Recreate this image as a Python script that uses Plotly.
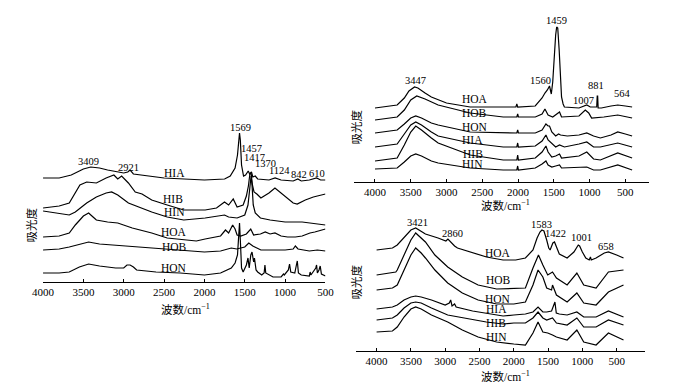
import plotly.graph_objects as go

W, H = 679, 389

# ---------------- Left panel (spectra, relative absorbance) ----------------
L_HIA_wn = [4000, 3800, 3650, 3500, 3409, 3300, 3200, 3000, 2950, 2921, 2880, 2700, 2500, 2000, 1750, 1680, 1620, 1590,
            1575, 1565, 1555, 1540, 1515, 1490, 1457, 1440, 1417, 1400, 1370, 1340, 1200, 1124, 1050, 900, 842, 800, 700,
            610, 560, 500]
L_HIA_ab = [104, 104, 107, 113, 115, 114, 112, 109, 110, 112, 108, 106, 104, 102, 103, 106, 114, 127,
            142, 149, 142, 117, 106, 107, 111, 108, 110, 105, 106, 103, 102, 104, 102, 101, 103, 101, 102,
            104, 102, 102]

L_HIB_wn = [4000, 3800, 3675, 3543, 3459, 3339, 3218, 3122, 3074, 3026, 2942, 2857, 2773, 2653, 2461, 2256, 1991, 1850,
            1751, 1700, 1643, 1595, 1520, 1480, 1455, 1435, 1420, 1405, 1385, 1350, 1300, 1200, 1126, 1000, 900, 850,
            750, 650, 500]
L_HIB_ab = [74, 76, 79, 97, 100, 99, 104, 107, 103, 106, 99, 90, 88, 82, 77, 72, 72, 74,
            80, 77, 83, 75, 77, 86, 96, 109, 108, 97, 90, 88, 84, 89, 94, 86, 79, 78,
            82, 85, 88]

L_HIN_wn = [4000, 3800, 3675, 3600, 3459, 3339, 3218, 3150, 3074, 2942, 2821, 2653, 2461, 2256, 1991, 1751, 1700, 1595,
            1500, 1460, 1440, 1422, 1410, 1395, 1370, 1306, 1186, 1000, 789, 600, 500]
L_HIN_ab = [71, 69, 67, 70, 79, 85, 89, 90, 87, 79, 75, 70, 65, 62, 64, 67, 65, 64,
            67, 77, 92, 106, 97, 77, 69, 64, 62, 60, 60, 58, 57]

L_HOA_wn = [4000, 3800, 3675, 3600, 3500, 3435, 3380, 3339, 3200, 3074, 2894, 2653, 2461, 2256, 2100, 1991, 1800, 1739,
            1700, 1650, 1620, 1595, 1550, 1480, 1426, 1390, 1306, 1246, 1186, 1126, 1050, 969, 873, 789, 692, 632, 500]
L_HOA_ab = [45, 46, 49, 57, 66, 69, 65, 62, 60, 59, 54, 49, 44, 42, 41, 43, 46, 52,
            49, 57, 53, 47, 46, 48, 53, 47, 48, 50, 48, 49, 46, 45, 45, 46, 49, 50, 53]

L_HOB_wn = [4000, 3800, 3675, 3500, 3435, 3300, 3000, 2700, 2400, 2000, 1800, 1667, 1600, 1500, 1450, 1400, 1300, 1100,
            1000, 900, 873, 840, 700, 600, 500]
L_HOB_ab = [32, 33, 35, 39, 40, 38, 36, 34, 32, 30, 31, 34, 33, 35, 39, 36, 32, 32,
            32, 33, 36, 33, 31, 32, 31]

L_HON_wn = [4000, 3800, 3675, 3550, 3435, 3300, 3100, 3000, 2960, 2921, 2880, 2840, 2600, 2300, 2000, 1800, 1667, 1620,
            1590, 1575, 1565, 1555, 1540, 1520, 1480, 1460, 1445, 1425, 1410, 1390, 1380, 1360, 1340, 1290, 1260, 1250,
            1240, 1150, 1050, 1020, 1010, 960, 945, 930, 880, 860, 849, 835, 800, 700, 690, 680, 620, 610, 600, 580,
            565, 550, 500]
L_HON_ab = [9, 9, 10, 15, 18, 16, 14, 14, 17, 17, 15, 12, 10, 9, 7, 9, 14, 19,
            27, 47, 59, 42, 14, 10, 17, 24, 14, 27, 30, 20, 24, 12, 10, 7, 9, 17,
            9, 5, 5, 8, 7, 12, 18, 10, 9, 17, 21, 9, 7, 6, 10, 7, 14, 17, 9, 12,
            16, 8, 6]

# ---------------- Top-right panel ----------------
T_HOA_wn = [4000, 3690, 3590, 3525, 3447, 3400, 3300, 3212, 3000, 2670, 2200, 2030, 2017, 2005, 1760, 1664, 1624, 1590,
            1560, 1535, 1515, 1490, 1474, 1460, 1445, 1425, 1406, 1392, 1370, 1352, 1148, 1039, 990, 900, 893, 887,
            880, 835, 700, 606, 500, 405]
T_HOA_ab = [74, 77, 84, 91, 95, 94, 89, 85, 79, 75, 75, 75, 78, 75, 76, 84, 89, 92,
            96, 88, 100, 132, 147, 155, 154, 132, 107, 85, 78, 75, 74, 77, 75, 75, 86, 86,
            74, 74, 76, 77, 76, 75]

T_HOB_wn = [4000, 3690, 3590, 3500, 3416, 3300, 3117, 2669, 2207, 2017, 2005, 1995, 1759, 1664, 1624, 1580, 1515, 1460,
            1420, 1392, 1148, 1060, 1012, 971, 800, 606, 405]
T_HOB_ab = [62, 65, 72, 82, 86, 83, 77, 69, 65, 65, 68, 65, 65, 68, 73, 67, 65, 68,
            70, 65, 66, 72, 69, 64, 65, 67, 64]

T_HON_wn = [4000, 3690, 3590, 3500, 3430, 3350, 3212, 3117, 2669, 2207, 2017, 2005, 1995, 1759, 1664, 1610, 1580, 1560,
            1528, 1474, 1433, 1406, 1311, 1148, 1039, 944, 849, 700, 606, 500, 405]
T_HON_ab = [49, 52, 58, 64, 66, 64, 59, 57, 50, 49, 49, 52, 49, 49, 52, 58, 56, 56,
            50, 46, 48, 47, 46, 47, 49, 46, 44, 47, 50, 48, 46]

T_HIA_wn = [4000, 3690, 3590, 3500, 3430, 3350, 3212, 3117, 2669, 2207, 2017, 2005, 1995, 1759, 1664, 1610, 1580, 1528,
            1474, 1420, 1352, 1148, 1039, 944, 849, 606, 405]
T_HIA_ab = [35, 38, 48, 57, 60, 57, 50, 46, 39, 35, 35, 39, 35, 36, 41, 47, 42, 39,
            35, 37, 35, 38, 40, 35, 35, 39, 35]

T_HIB_wn = [4000, 3690, 3590, 3500, 3430, 3350, 3212, 3117, 2669, 2207, 2017, 2005, 1995, 1759, 1664, 1610, 1580, 1528,
            1474, 1420, 1392, 1148, 1039, 944, 849, 606, 405]
T_HIB_ab = [21, 24, 37, 50, 56, 52, 44, 39, 27, 22, 22, 27, 22, 24, 30, 36, 30, 25,
            26, 28, 24, 26, 30, 23, 22, 29, 24]

T_HIN_wn = [4000, 3690, 3590, 3500, 3430, 3350, 3212, 3117, 2669, 2207, 2017, 2005, 1995, 1759, 1664, 1610, 1580, 1528,
            1474, 1420, 1392, 1148, 1039, 944, 849, 606, 405]
T_HIN_ab = [13, 14, 20, 26, 28, 26, 21, 19, 14, 12, 12, 16, 12, 14, 18, 21, 17, 15,
            16, 17, 14, 15, 15, 12, 12, 17, 12]

# ---------------- Bottom-right panel ----------------
B_HOA_wn = [4000, 3769, 3699, 3600, 3500, 3430, 3350, 3288, 3104, 2990, 2960, 2920, 2863, 2821, 2637, 2397, 2156, 1972,
            1830, 1720, 1660, 1618, 1590, 1560, 1520, 1490, 1470, 1430, 1406, 1378, 1336, 1222, 1123, 1060, 1040, 1000,
            950, 900, 882, 870, 800, 680, 620, 500, 400]
B_HOA_ab = [101, 103, 106, 113, 121, 123, 120, 117, 113, 110, 112, 109, 105, 103, 99, 94, 91, 91,
            93, 101, 113, 119, 121, 120, 111, 103, 101, 108, 109, 104, 97, 93, 99, 106, 105, 99,
            93, 91, 94, 91, 93, 98, 99, 96, 93]

B_HOB_wn = [4000, 3769, 3720, 3699, 3600, 3500, 3430, 3350, 3288, 3150, 2963, 2750, 2520, 2250, 2000, 1830, 1720, 1640,
            1576, 1505, 1435, 1378, 1222, 1080, 980, 800, 620, 400]
B_HOB_ab = [76, 78, 79, 81, 96, 111, 118, 113, 109, 96, 84, 74, 66, 62, 63, 63, 83, 96,
            86, 76, 79, 73, 66, 78, 66, 63, 79, 81]

B_HON_wn = [4000, 3769, 3699, 3600, 3500, 3430, 3350, 3288, 3150, 2963, 2750, 2520, 2250, 2000, 1830, 1720, 1646, 1576,
            1520, 1449, 1435, 1378, 1222, 1080, 980, 800, 620, 400]
B_HON_ab = [61, 63, 66, 81, 96, 103, 98, 93, 81, 68, 58, 51, 47, 47, 49, 66, 81, 74,
            63, 61, 66, 56, 49, 58, 48, 46, 59, 66]

B_HIA_wn = [4000, 3769, 3699, 3600, 3500, 3430, 3350, 3200, 3000, 2940, 2920, 2900, 2863, 2840, 2600, 2400, 2156, 2000,
            1830, 1720, 1646, 1576, 1520, 1449, 1400, 1380, 1336, 1222, 1080, 980, 800, 620, 400]
B_HIA_ab = [42, 44, 46, 51, 54, 55, 54, 51, 46, 48, 51, 45, 47, 44, 40, 38, 35, 36,
            37, 39, 44, 39, 39, 40, 49, 38, 37, 36, 39, 34, 34, 40, 34]

B_HIB_wn = [4000, 3769, 3699, 3600, 3500, 3430, 3350, 3200, 2963, 2600, 2400, 2156, 2000, 1830, 1720, 1646, 1576, 1520,
            1435, 1378, 1222, 1080, 980, 800, 620, 400]
B_HIB_ab = [31, 33, 36, 43, 48, 49, 48, 43, 36, 31, 29, 27, 28, 28, 33, 39, 33, 31,
            33, 28, 26, 33, 24, 24, 31, 26]

B_HIN_wn = [4000, 3769, 3699, 3600, 3500, 3430, 3350, 3200, 2963, 2750, 2520, 2250, 2000, 1830, 1720, 1646, 1576, 1505,
            1435, 1378, 1222, 1080, 980, 800, 620, 400]
B_HIN_ab = [19, 20, 24, 34, 42, 44, 42, 36, 29, 21, 14, 9, 7, 6, 18, 29, 19, 18,
            16, 14, 11, 21, 9, 6, 18, 11]

sample_names = ["HIA", "HIB", "HIN", "HOA", "HOB", "HON"]
tick_vals = [4000, 3500, 3000, 2500, 2000, 1500, 1000, 500]

left_peaks = ["3409", "2921", "1569", "1457", "1417", "1370", "1124", "842", "610"]
top_peaks = ["3447", "1560", "1459", "1007", "881", "564"]
bot_peaks = ["3421", "2860", "1583", "1422", "1001", "658"]

# ------------------------------------------------------------------------
SERIF = "Liberation Serif, Times New Roman, serif"
CJK = "Liberation Serif, Noto Sans CJK SC, serif"
LINE = dict(color="black", width=1.2)

fig = go.Figure()

panels = [
    ("x", "y", [(L_HIA_wn, L_HIA_ab), (L_HIB_wn, L_HIB_ab), (L_HIN_wn, L_HIN_ab),
                (L_HOA_wn, L_HOA_ab), (L_HOB_wn, L_HOB_ab), (L_HON_wn, L_HON_ab)]),
    ("x2", "y2", [(T_HOA_wn, T_HOA_ab), (T_HOB_wn, T_HOB_ab), (T_HON_wn, T_HON_ab),
                  (T_HIA_wn, T_HIA_ab), (T_HIB_wn, T_HIB_ab), (T_HIN_wn, T_HIN_ab)]),
    ("x3", "y3", [(B_HOA_wn, B_HOA_ab), (B_HOB_wn, B_HOB_ab), (B_HON_wn, B_HON_ab),
                  (B_HIA_wn, B_HIA_ab), (B_HIB_wn, B_HIB_ab), (B_HIN_wn, B_HIN_ab)]),
]
for xa, ya, curves in panels:
    for wn, ab in curves:
        fig.add_trace(go.Scatter(x=wn, y=ab, mode="lines", line=LINE, xaxis=xa, yaxis=ya,
                                 hoverinfo="skip", showlegend=False))


def px(x, y):
    return x / W, 1 - y / H


def xaxis(dom, rng):
    return dict(domain=dom, range=rng, tickvals=tick_vals, ticks="inside", ticklen=3, tickwidth=1,
                tickcolor="black", showline=True, linecolor="black", linewidth=1, showgrid=False,
                zeroline=False, tickfont=dict(family=SERIF, size=11, color="black"), fixedrange=True)


def yaxis(dom, rng, anchor):
    return dict(domain=dom, range=rng, visible=False, showgrid=False, zeroline=False, anchor=anchor,
                fixedrange=True)


fig.update_layout(
    width=W, height=H, margin=dict(l=0, r=0, t=0, b=0),
    paper_bgcolor="white", plot_bgcolor="white", showlegend=False,
    xaxis=dict(xaxis([33 / W, 324 / W], [4000, 500]), anchor="y"),
    yaxis=yaxis([1 - 282 / H, 1 - 120 / H], [0, 162], "x"),
    xaxis2=dict(xaxis([353 / W, 657 / W], [4299, 174]), anchor="y2"),
    yaxis2=yaxis([1 - 182 / H, 1 - 15 / H], [0, 167], "x2"),
    xaxis3=dict(xaxis([355 / W, 653 / W], [4307, 90]), anchor="y3"),
    yaxis3=yaxis([1 - 351 / H, 1 - 215 / H], [0, 136], "x3"),
)

ann = []


def label(text, x, y, size=11, family=SERIF, angle=0):
    ax, ay = px(x, y)
    ann.append(dict(text=text, x=ax, y=ay, xref="paper", yref="paper", showarrow=False,
                    xanchor="center", yanchor="middle", textangle=angle,
                    font=dict(family=family, size=size, color="black")))


# curve labels
left_lab_pos = [(168, 173), (167, 199), (168, 212), (168, 232), (168, 247), (168, 268)]
for n, (x, y) in zip(sample_names, left_lab_pos):
    label(n, x, y, 11.5)
top_order = ["HOA", "HOB", "HON", "HIA", "HIB", "HIN"]
top_lab_pos = [(478, 99), (478, 113), (478, 127), (476, 140), (476, 154), (476, 164)]
for n, (x, y) in zip(top_order, top_lab_pos):
    label(n, x, y, 11.5)
bot_lab_pos = [(502, 253), (502, 280), (502, 299), (500, 309), (500, 323), (500, 337)]
for n, (x, y) in zip(top_order, bot_lab_pos):
    label(n, x, y, 11.5)

# peak labels
left_peak_pos = [(80, 161), (121, 167), (236, 127), (248, 148), (251, 157), (262, 163), (277, 170), (297, 174), (315, 173)]
for t, (x, y) in zip(left_peaks, left_peak_pos):
    label(t, x, y, 10.5)
top_peak_pos = [(417, 81), (546, 81), (562, 21), (590, 100), (603, 85), (630, 94)]
for t, (x, y) in zip(top_peaks, top_peak_pos):
    label(t, x, y, 10.5)
bot_peak_pos = [(419, 222), (455, 233), (547, 224), (561, 233), (588, 237), (613, 246)]
for t, (x, y) in zip(bot_peaks, bot_peak_pos):
    label(t, x, y, 10.5)

# axis titles
ytitle = "吸光度"
xtitle = "波数/cm<sup>−1</sup>"
label(ytitle, 21, 225, 11.5, CJK, -90)
label(ytitle, 355, 127, 11.5, CJK, -90)
label(ytitle, 355, 282, 11.5, CJK, -90)
label(xtitle, 180, 309, 11.5, CJK)
label(xtitle, 510, 205, 11.5, CJK)
label(xtitle, 510, 376, 11.5, CJK)

fig.update_layout(annotations=ann)

fig.write_html("out.html", config={"displayModeBar": False},
               post_script="document.body.style.margin='0';document.body.style.padding='0';")
